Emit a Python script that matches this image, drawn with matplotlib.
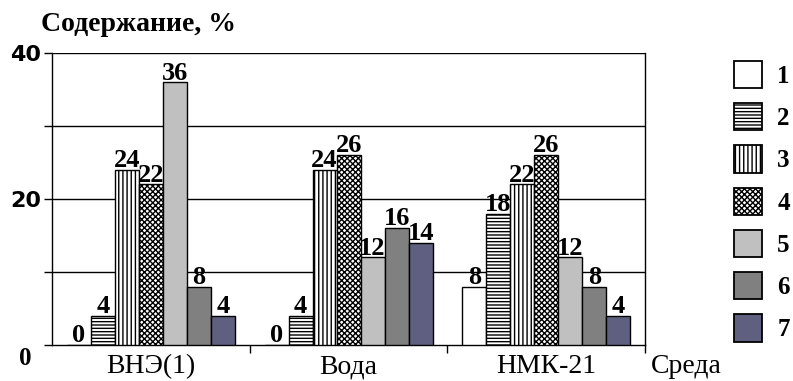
import matplotlib
matplotlib.use("Agg")
import matplotlib.pyplot as plt
from matplotlib.patches import Patch
import numpy as np

# data
categories = ["ВНЭ(1)", "Вода", "НМК-21"]
series_names = ["1", "2", "3", "4", "5", "6", "7"]
values = [
    [0, 0, 8],      # 1
    [4, 4, 18],     # 2
    [24, 24, 22],   # 3
    [22, 26, 26],   # 4
    [36, 12, 12],   # 5
    [8, 16, 8],     # 6
    [4, 14, 4],     # 7
]

colors = ["white", "white", "white", "white", "#c0c0c0", "#808080", "#5f5f80"]
hatches = ["", "-----", "||||", "xxxxxx", "", "", ""]

plt.rcParams["hatch.linewidth"] = 1.0
plt.rcParams["font.family"] = ["Liberation Serif", "DejaVu Serif"]

fig = plt.figure(figsize=(7.93, 3.81), dpi=100)
ax = fig.add_axes([0.0656, 0.0945, 0.748, 0.766])

n = len(series_names)
w = 0.85 / n
x = np.arange(len(categories))
for i in range(n):
    pos = x - 0.425 + w * (i + 0.5)
    ax.bar(pos, values[i], width=w, color=colors[i], hatch=hatches[i],
           edgecolor="black", linewidth=1.0, zorder=3)
    for p, v in zip(pos, values[i]):
        ax.text(p, v - 0.3, str(v), ha="center", va="bottom", fontsize=19,
                fontweight="bold", zorder=4)

ax.set_xlim(-0.5, 2.5)
ax.set_ylim(0, 40)
for g in [10, 20, 30, 40]:
    ax.axhline(g, color="black", linewidth=1.0, zorder=1)

ax.spines["top"].set_visible(False)
for s in ["left", "right", "bottom"]:
    ax.spines[s].set_linewidth(1.0)

ax.set_yticks([0, 10, 20, 30, 40], labels=["", "", "20", "", "40"])
ax.tick_params(axis="y", length=6, width=1, pad=2)
for lab in ax.get_yticklabels():
    lab.set_family("DejaVu Sans")
    lab.set_fontweight("bold")
    lab.set_fontsize(16)
ax.text(-0.035, -0.045, "0", transform=ax.transAxes, ha="right", va="center",
        fontsize=18, fontweight="bold")

ax.set_xticks([0.5, 1.5, 2.5], labels=["", "", ""])
ax.tick_params(axis="x", length=6, width=1, direction="out")
for c, name in zip(x, categories):
    ax.text(c, -1.3, name, ha="center", va="top", fontsize=20)
ax.text(2.53, -1.3, "Среда", ha="left", va="top", fontsize=20)

fig.text(0.052, 0.935, "Содержание, %", fontsize=20, fontweight="bold",
         ha="left", va="center")

handles = [Patch(facecolor=colors[i], hatch=hatches[i], edgecolor="black",
                 linewidth=1.3) for i in range(n)]
fig.legend(handles, series_names, loc="upper left", bbox_to_anchor=(0.926, 0.84),
           frameon=False, borderpad=0, borderaxespad=0,
           handlelength=1.12, handleheight=1.3, labelspacing=0.6,
           handletextpad=0.6,
           prop={"family": "Liberation Serif", "weight": "bold", "size": 18})

fig.savefig("out.png", dpi=100)
